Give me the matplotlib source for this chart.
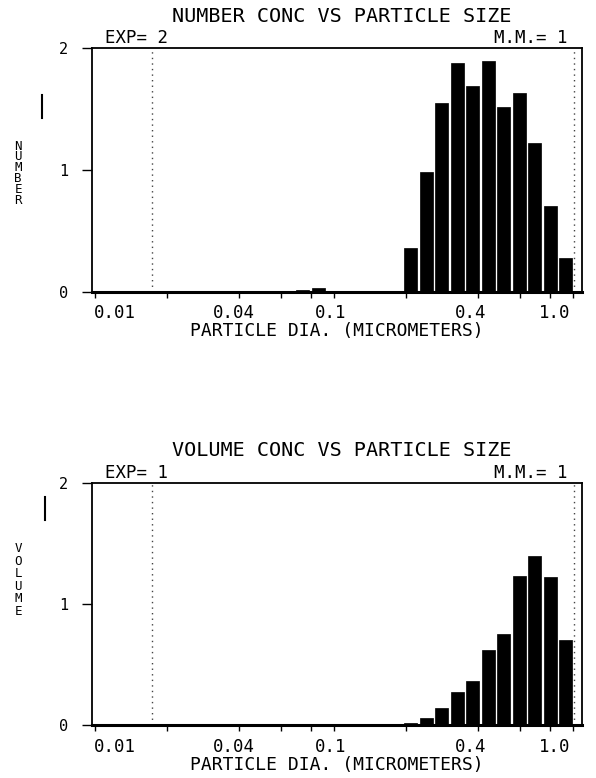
import numpy as np
import matplotlib
matplotlib.use("Agg")
import matplotlib.pyplot as plt
from matplotlib.lines import Line2D
from matplotlib.transforms import ScaledTranslation

# ---- data ----
diam_number = [0.041, 0.064, 0.074, 0.086, 0.209, 0.243, 0.282, 0.327, 0.380,
               0.441, 0.512, 0.594, 0.690, 0.801, 0.930]
number = [0.01, 0.01, 0.015, 0.03, 0.36, 0.98, 1.55, 1.88, 1.69,
          1.89, 1.52, 1.63, 1.22, 0.705, 0.276]

diam_volume = [0.156, 0.181, 0.209, 0.243, 0.282, 0.327, 0.380, 0.441,
               0.512, 0.594, 0.690, 0.801, 0.930]
volume = [0.005, 0.01, 0.02, 0.06, 0.14, 0.27, 0.36, 0.62,
          0.75, 1.23, 1.40, 1.22, 0.70]

x_ticks = [0.01, 0.02, 0.04, 0.06, 0.08, 0.1, 0.2, 0.4, 0.6, 0.8, 1.0]
x_labels = {0.01: "0.01", 0.04: "0.04", 0.1: "0.1", 0.4: "0.4", 1.0: "1.0"}
# horizontal nudge of the printed labels relative to their tick (pixels)
x_label_shift = {0.01: 20, 0.04: -5, 0.1: -3, 0.4: -7, 1.0: -18}
y_ticks = [0, 1, 2]
dotted_lines = [0.0173, 1.005]

titles = ["NUMBER CONC VS PARTICLE SIZE", "VOLUME CONC VS PARTICLE SIZE"]
exp_labels = ["EXP= 2", "EXP= 1"]
mm_labels = ["M.M.= 1", "M.M.= 1"]
ylabels = ["NUMBER", "VOLUME"]
xlabel = "PARTICLE DIA. (MICROMETERS)"

FONT = "DejaVu Sans Mono"
W, H = 596, 778
fig = plt.figure(figsize=(W / 100, H / 100), dpi=100)


def fx(px):
    return px / W


def fy(py):
    return 1 - py / H


def make_panel(top_px, bot_px, diam, vals, title, exp_lab, mm_lab, ylab,
               ylab_center, ylab_spacing, bar_px):
    left_px, right_px = 92, 582
    ax = fig.add_axes([fx(left_px), fy(bot_px), fx(right_px - left_px),
                       (bot_px - top_px) / H])
    ax.set_xscale("log")
    ax.set_xlim(0.0097, 1.09)
    ax.set_ylim(0, 2)
    d = np.array(diam)
    half = 0.0272
    lefts = d * 10 ** (-half)
    widths = d * (10 ** half - 10 ** (-half))
    ax.bar(lefts, vals, width=widths, align="edge", color="black",
           edgecolor="black", linewidth=0.5)
    for xv in dotted_lines:
        ax.axvline(xv, color="#444444", linestyle=(0, (1, 3)), linewidth=1.0)
    for s in ax.spines.values():
        s.set_linewidth(1.3)
    ax.spines["bottom"].set_linewidth(2.2)
    ax.set_xticks(x_ticks)
    ax.set_xticks([], minor=True)
    ax.set_xticklabels([x_labels.get(t, "") for t in x_ticks],
                       fontfamily=FONT, fontsize=12.5)
    ax.tick_params(axis="x", direction="out", length=4, width=1, pad=5)
    for t, lab in zip(x_ticks, ax.get_xticklabels()):
        dx = x_label_shift.get(t, 0)
        lab.set_transform(lab.get_transform() +
                          ScaledTranslation(dx / 100, 0, fig.dpi_scale_trans))
    ax.set_yticks(y_ticks)
    ax.set_yticklabels([str(t) for t in y_ticks], fontfamily=FONT, fontsize=11)
    ax.tick_params(axis="y", direction="out", length=7, width=1, pad=10)
    ax.set_xlabel(xlabel, fontfamily=FONT, fontsize=13, labelpad=0)
    fig.text(fx(342), fy(top_px - 32), title, fontfamily=FONT, fontsize=14.5,
             ha="center", va="center")
    fig.text(fx(105), fy(top_px - 10), exp_lab, fontfamily=FONT, fontsize=12.5,
             ha="left", va="center")
    fig.text(fx(568), fy(top_px - 10), mm_lab, fontfamily=FONT, fontsize=12.5,
             ha="right", va="center")
    fig.text(fx(18), fy(ylab_center), "\n".join(ylab),
             fontfamily=FONT, fontsize=9, ha="center", va="center",
             linespacing=ylab_spacing)
    fig.add_artist(Line2D([fx(bar_px[0]), fx(bar_px[0])],
                          [fy(bar_px[1]), fy(bar_px[2])],
                          color="black", linewidth=1.5))
    return ax


make_panel(48, 292, diam_number, number, titles[0], exp_labels[0],
           mm_labels[0], ylabels[0], 173, 0.78, (42, 95, 118))
make_panel(483, 725, diam_volume, volume, titles[1], exp_labels[1],
           mm_labels[1], ylabels[1], 580, 0.95, (45, 497, 520))

fig.savefig("out.png", dpi=100)
